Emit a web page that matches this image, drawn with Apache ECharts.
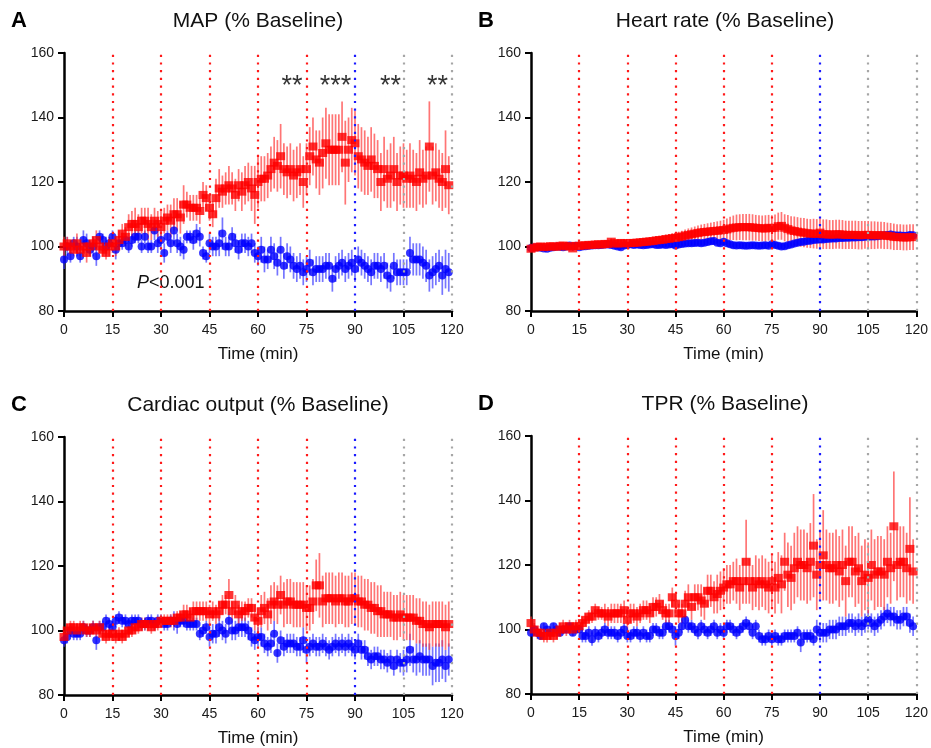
<!DOCTYPE html>
<html>
<head>
<meta charset="utf-8">
<script src="https://cdn.jsdelivr.net/npm/echarts@6/dist/echarts.min.js"></script>
<style>
  html, body { margin: 0; padding: 0; background: #fff; }
  #chart-panel { width: 931px; height: 748px; }
</style>
</head>
<body>
<div id="chart-panel"></div>
<script>
/* x ticks and y ticks */
const xTicks = [0, 15, 30, 45, 60, 75, 90, 105, 120]
const yTicks = [80, 100, 120, 140, 160]

/* vertical dotted markers: minute and colour group */
const markMinutes = [15, 30, 45, 60, 75, 90, 105, 120]
const markKinds = ['red', 'red', 'red', 'red', 'red', 'blue', 'gray', 'gray']

/* significance stars, panel A */
const starX = [70.5, 84, 101, 115.5]
const starY = [149.5, 149.5, 149.5, 149.5]
const starText = ['**', '***', '**', '**']

/* A: MAP */
const mapTrt = [
  100,101,100,99,101,99,100,98,100,101,
  102,100,99,98,100,101,100,102,104,103,
  106,107,107,106,108,108,107,106,108,107,
  106,108,109,108,110,110,109,113,113,112,
  112,112,111,116,115,112,110,115,118,117,
  118,119,118,116,119,117,119,120,118,116,
  120,121,121,122,124,126,125,128,124,123,
  124,122,123,124,120,124,128,131,127,126,
  129,132,130,130,130,130,134,126,130,133,
  132,128,127,126,125,127,125,124,120,124,
  121,122,124,120,122,122,121,122,121,120,
  123,121,122,131,122,123,121,120,124,119]
const mapTrtErr = [
  3,2,2,2,3,2,2,3,2,2,
  3,2,2,2,3,3,3,3,3,3,
  4,4,5,4,4,4,5,4,4,4,
  5,4,4,5,5,5,5,6,4,4,
  4,4,4,4,4,4,4,6,6,5,
  5,6,5,5,5,6,6,6,7,9,
  8,7,7,7,7,8,8,10,8,8,
  8,8,8,8,8,8,9,9,9,10,
  11,11,11,11,11,11,11,13,10,10,
  10,10,10,10,9,10,10,9,9,10,
  9,10,10,9,9,10,9,10,9,9,
  10,9,9,14,9,9,9,9,12,9]
const mapCtl = [
  96,100,97,101,100,97,102,101,99,100,
  97,103,102,100,101,103,99,101,101,102,
  100,102,103,103,100,103,100,100,105,101,
  102,98,103,101,105,101,100,99,103,103,
  102,104,103,98,97,101,100,100,101,104,
  100,100,103,101,99,101,101,100,101,98,
  97,99,96,96,99,97,95,99,94,97,
  96,94,93,94,92,93,95,92,93,93,
  93,94,94,90,93,94,95,93,94,95,
  93,96,95,94,93,92,94,94,93,94,
  91,90,94,92,92,92,92,98,96,96,
  96,95,94,91,92,93,94,91,93,92]
const mapCtlErr = [
  3,3,2,2,3,2,3,3,2,3,
  3,2,2,3,2,2,3,2,2,2,
  2,2,2,2,2,2,2,2,3,3,
  3,3,2,3,4,3,3,3,2,2,
  3,3,3,2,2,3,3,3,4,5,
  3,3,3,3,3,3,3,3,3,3,
  3,4,4,3,4,4,4,4,4,4,
  4,4,4,4,4,4,4,4,4,4,
  4,4,4,4,4,4,4,4,4,4,
  4,4,4,4,4,4,4,4,4,4,
  4,4,4,4,4,4,4,5,5,5,
  5,5,5,5,5,5,5,6,6,6]

/* B: heart rate */
const hrTrt = [
  99.3,99.6,99.9,100.0,99.8,99.9,100.1,100.0,99.9,100.2,
  100.3,100.0,100.1,99.4,100.2,100.2,100.4,100.3,100.5,100.5,
  100.6,100.7,100.6,100.8,100.8,101.5,101.0,100.9,101.1,101.0,
  101.0,101.1,101.1,101.2,101.3,101.4,101.5,101.6,101.7,101.9,
  102.0,102.1,102.3,102.4,102.6,102.7,102.9,103.1,103.4,103.6,
  103.8,104.0,104.2,104.4,104.5,104.6,104.7,104.8,104.9,105.0,
  105.1,105.3,105.6,105.8,105.9,106.0,106.0,106.0,106.0,105.9,
  105.8,105.7,105.6,105.6,105.8,105.7,105.8,106.3,106.4,105.8,
  105.4,105.0,104.8,104.6,104.4,104.3,104.1,104.0,104.0,103.9,
  104.3,103.8,103.8,103.7,103.7,103.8,103.8,103.7,103.6,103.6,
  103.6,103.6,103.5,103.5,103.6,103.6,103.5,103.5,103.5,103.5,
  103.4,103.3,103.2,103.0,102.9,102.9,102.8,102.8,102.9,102.9]
const hrTrtErr = [
  0.5,0.5,0.6,0.5,0.6,0.6,0.6,0.6,0.7,0.6,
  0.7,0.7,0.7,0.8,0.7,0.7,0.7,0.7,0.8,0.8,
  0.8,0.8,0.8,0.8,0.9,1.0,0.9,0.9,0.9,0.9,
  1.0,1.0,1.0,1.0,1.1,1.1,1.1,1.2,1.2,1.3,
  1.3,1.4,1.4,1.5,1.5,1.6,1.7,1.8,1.9,2.0,
  2.1,2.2,2.3,2.4,2.5,2.6,2.7,2.8,2.9,3.0,
  3.2,3.4,3.6,3.8,4.0,4.0,4.1,4.1,4.1,4.1,
  4.0,4.0,4.0,4.1,4.0,4.0,4.1,4.2,4.3,4.2,
  4.4,4.4,4.5,4.5,4.5,4.5,4.5,4.5,4.6,4.6,
  4.6,4.6,4.6,4.5,4.5,4.5,4.5,4.5,4.4,4.4,
  4.4,4.4,4.4,4.4,4.3,4.3,4.3,4.3,4.2,4.2,
  4.2,4.1,4.1,4.1,4.0,4.0,4.0,4.0,4.0,4.0]
const hrCtl = [
  99.5,99.7,99.8,99.6,99.4,99.3,99.6,99.8,100.0,99.9,
  99.8,100.0,100.3,100.0,100.2,99.8,100.0,100.1,100.2,100.3,
  100.4,100.4,100.5,100.6,100.6,100.5,100.2,100.0,99.8,100.3,
  100.5,100.7,100.5,100.6,100.5,100.4,100.5,100.6,100.7,100.5,
  100.5,100.6,100.5,100.6,100.7,100.3,100.6,100.8,100.9,101.0,
  101.0,101.1,101.2,101.0,101.2,101.4,101.6,101.7,101.2,101.0,
  101.5,101.0,100.7,100.4,100.3,100.4,100.3,100.2,100.3,100.4,
  100.3,100.2,100.3,100.4,100.2,100.7,100.5,100.2,100.0,100.1,
  100.4,100.6,100.9,101.2,101.4,101.5,101.7,101.8,102.0,102.1,
  102.2,102.2,102.3,102.4,102.5,102.5,102.6,102.6,102.7,102.7,
  102.8,102.8,102.9,102.9,103.0,103.0,103.1,103.1,103.2,103.4,
  103.5,103.6,103.7,103.5,103.4,103.4,103.3,103.3,103.6,103.5]
const hrCtlErr = [
  0.6,0.6,0.6,0.7,0.7,0.7,0.6,0.6,0.7,0.7,
  0.7,0.7,0.7,0.7,0.7,0.8,0.7,0.7,0.7,0.7,
  0.7,0.7,0.8,0.8,0.8,0.8,0.8,0.8,0.9,0.8,
  0.8,0.8,0.8,0.8,0.8,0.8,0.8,0.9,0.9,0.9,
  0.9,0.9,0.9,0.9,0.9,0.9,0.9,0.9,0.9,0.9,
  1.0,1.0,1.0,1.0,1.0,1.0,1.1,1.1,1.0,1.0,
  1.1,1.0,1.0,1.0,1.0,1.0,1.0,1.0,1.0,1.0,
  1.0,1.0,1.0,1.0,1.0,1.1,1.0,1.0,1.0,1.0,
  1.0,1.0,1.1,1.1,1.1,1.1,1.1,1.1,1.1,1.1,
  1.1,1.1,1.1,1.1,1.1,1.1,1.1,1.1,1.1,1.1,
  1.1,1.1,1.1,1.1,1.1,1.1,1.1,1.1,1.1,1.2,
  1.2,1.2,1.2,1.2,1.2,1.2,1.2,1.2,1.2,1.2]

/* C: cardiac output */
const coTrt = [
  98,100,101,101,100,101,101,100,100,101,
  100,101,99,98,99,99,98,99,98,99,
  100,100,101,101,102,102,102,101,102,102,
  103,103,103,103,103,104,104,105,105,104,
  106,106,106,106,106,105,106,105,106,108,
  108,111,106,108,105,106,106,107,107,104,
  103,106,107,105,108,109,108,111,108,109,
  109,108,108,108,108,107,107,109,114,114,
  109,110,110,110,109,110,110,109,109,110,
  110,109,109,108,108,107,107,106,106,105,
  105,105,104,104,105,104,104,104,104,103,
  103,102,102,101,102,102,102,102,101,102]
const coTrtErr = [
  2,2,2,2,2,2,2,2,2,2,
  2,2,2,2,2,2,2,2,2,2,
  2,2,2,2,2,2,2,2,2,2,
  2,2,2,2,2,2,2,3,3,3,
  3,3,3,3,3,3,3,3,3,3,
  3,5,3,3,3,3,3,3,3,4,
  4,5,5,5,6,6,6,6,7,7,
  7,7,7,7,7,7,7,7,8,10,
  8,8,8,8,8,8,8,8,8,8,
  8,8,8,8,8,8,8,8,8,7,
  7,7,7,7,7,7,7,7,7,7,
  7,7,7,7,7,7,7,7,7,7]
const coCtl = [
  97,98,100,99,99,99,101,100,100,101,
  97,101,101,103,102,101,103,104,103,103,
  102,103,103,103,102,102,103,103,102,103,
  103,102,102,103,103,102,103,103,102,102,
  102,102,99,100,101,98,99,99,101,100,
  99,103,100,100,101,101,101,100,98,97,
  98,98,96,95,96,99,93,97,95,96,
  96,96,95,95,97,94,95,96,95,95,
  96,95,94,95,96,95,96,95,96,95,
  94,96,94,94,92,91,92,92,91,91,
  90,91,89,91,90,90,91,94,91,91,
  92,91,91,91,89,90,90,91,89,91]
const coCtlErr = [
  2,2,2,2,2,2,2,2,2,2,
  3,2,2,2,2,2,2,2,2,2,
  2,2,2,2,2,2,2,2,2,2,
  2,2,2,2,3,3,2,2,2,2,
  2,2,2,2,2,3,3,3,3,3,
  3,3,3,3,3,3,3,3,3,3,
  3,3,3,3,3,4,3,3,3,3,
  3,3,3,3,4,4,3,3,3,3,
  3,3,3,3,3,3,3,3,3,3,
  3,3,3,3,3,3,3,3,3,3,
  3,3,3,3,3,4,4,5,4,5,
  5,5,5,5,6,6,6,6,5,5]

/* D: TPR */
const tprTrt = [
  102,100,99,99,98,98,99,98,99,100,
  101,100,101,100,101,101,102,103,104,104,
  106,105,105,105,104,105,105,105,105,106,
  103,105,105,104,105,106,106,105,107,107,
  108,106,105,105,110,108,105,105,108,110,
  107,110,110,109,108,112,112,110,111,112,
  113,114,114,115,115,113,115,121,115,113,
  115,114,115,114,113,115,113,116,114,121,
  117,116,119,121,120,120,119,121,126,117,
  120,123,120,119,119,120,118,120,115,121,
  121,118,119,115,117,116,120,117,118,118,
  117,121,119,132,120,121,121,119,125,118]
const tprTrtErr = [
  2,2,2,2,2,2,2,2,2,2,
  2,2,2,2,2,2,2,2,2,2,
  2,2,2,3,3,3,3,3,3,3,
  3,3,3,3,3,3,3,3,3,3,
  3,3,3,3,3,3,3,3,4,4,
  4,4,4,5,5,5,5,5,6,6,
  6,6,6,6,7,7,7,13,7,7,
  8,8,8,8,8,8,8,8,9,9,
  10,10,11,11,11,11,11,12,16,11,
  11,14,11,11,11,11,11,11,11,11,
  11,11,11,11,11,11,11,11,11,11,
  11,11,11,17,11,11,11,11,16,10]
const tprCtl = [
  99,100,99,98,101,100,99,101,100,99,
  100,100,101,99,100,100,98,98,99,97,
  99,98,99,100,99,99,99,98,99,100,
  98,98,99,99,98,99,98,98,100,100,
  99,99,101,101,100,98,99,101,103,101,
  101,100,99,101,100,99,100,101,99,100,
  99,101,101,100,99,100,101,102,101,99,
  101,98,97,97,98,97,98,97,97,98,
  98,98,98,99,96,98,98,98,97,100,
  99,99,99,100,100,100,101,101,101,102,
  102,101,102,101,102,103,102,101,102,103,
  104,105,104,104,103,103,104,104,102,101]
const tprCtlErr = [
  1,1,1,1,1,1,1,1,1,1,
  1,1,1,1,1,1,2,2,2,2,
  2,2,2,2,2,2,2,2,2,2,
  2,2,2,2,2,2,2,2,2,2,
  2,2,2,2,2,3,2,2,2,2,
  2,2,2,2,2,2,2,2,2,2,
  2,2,2,2,2,2,2,2,2,2,
  2,2,2,2,2,2,2,2,2,2,
  2,2,2,2,3,2,2,2,2,3,
  3,3,3,3,3,3,3,3,3,3,
  3,3,3,3,3,3,3,3,3,3,
  3,3,3,3,3,3,3,3,3,3]

const FONT = '"Liberation Sans", Arial, sans-serif'
const RED = '#ff0000', BLUE = '#0000ff'
const markColor = { red: '#ff1a1a', blue: '#1a1aff', gray: '#a6a6a6' }

const panels = [
  { letter: 'A', title: 'MAP (% Baseline)', left: 64, top: 53, trt: mapTrt, trtErr: mapTrtErr, ctl: mapCtl, ctlErr: mapCtlErr },
  { letter: 'B', title: 'Heart rate (% Baseline)', left: 531, top: 53, trt: hrTrt, trtErr: hrTrtErr, ctl: hrCtl, ctlErr: hrCtlErr },
  { letter: 'C', title: 'Cardiac output (% Baseline)', left: 64, top: 437, trt: coTrt, trtErr: coTrtErr, ctl: coCtl, ctlErr: coCtlErr },
  { letter: 'D', title: 'TPR (% Baseline)', left: 531, top: 436, trt: tprTrt, trtErr: tprTrtErr, ctl: tprCtl, ctlErr: tprCtlErr }
]
const W = 388, H = 258

/* 均值点 */
function points(vals) {
  return vals.map((v, i) => [i, v])
}
/* 误差棒数据 */
function errPoints(vals, errs) {
  return vals.map((v, i) => [i, v, errs[i]])
}

function errSeries(idx, vals, errs, color, withMarks) {
  let s = {
    type: 'custom',
    xAxisIndex: idx, yAxisIndex: idx,
    silent: true,
    clip: false,
    data: errPoints(vals, errs),
    renderItem: function (params, api) {
      let x = api.value(0), y = api.value(1), e = api.value(2)
      let a = api.coord([x, y + e]), b = api.coord([x, y - e])
      return {
        type: 'line',
        shape: { x1: a[0], y1: a[1], x2: b[0], y2: b[1] },
        style: { stroke: color, lineWidth: 1.7, opacity: 0.7 }
      }
    }
  }
  if (withMarks) {
    s.markLine = {
      silent: true,
      symbol: 'none',
      label: { show: false },
      animation: false,
      data: markMinutes.map((m, i) => ({
        xAxis: m,
        lineStyle: { color: markColor[markKinds[i]], type: [2.2, 5.5], width: 2.2, cap: 'butt' }
      }))
    }
  }
  return s
}

let grids = [], xAxes = [], yAxes = [], series = [], graphics = []

panels.forEach((p, idx) => {
  grids.push({ left: p.left, top: p.top, width: W, height: H })
  xAxes.push({
    type: 'value', gridIndex: idx, min: 0, max: 120, interval: 15,
    name: 'Time (min)', nameLocation: 'middle', nameGap: 35,
    nameTextStyle: { fontFamily: FONT, fontSize: 17, color: '#111' },
    axisLine: { onZero: false, lineStyle: { color: '#000', width: 2.5 } },
    axisTick: { length: 6, lineStyle: { color: '#000', width: 2 } },
    axisLabel: { margin: 12, fontFamily: FONT, fontSize: 14, color: '#1a1a1a' },
    splitLine: { show: false }
  })
  yAxes.push({
    type: 'value', gridIndex: idx, min: 80, max: 160, interval: 20,
    axisLine: { show: true, lineStyle: { color: '#000', width: 2.5 } },
    axisTick: { show: true, length: 6, lineStyle: { color: '#000', width: 2 } },
    axisLabel: { margin: 10, fontFamily: FONT, fontSize: 14, color: '#1a1a1a' },
    splitLine: { show: false }
  })
  series.push(errSeries(idx, p.ctl, p.ctlErr, '#3a3aff', false))
  series.push(errSeries(idx, p.trt, p.trtErr, '#ff3a3a', true))
  series.push({
    type: 'scatter', xAxisIndex: idx, yAxisIndex: idx, silent: true,
    symbol: 'circle', symbolSize: 8,
    itemStyle: { color: BLUE },
    data: points(p.ctl)
  })
  series.push({
    type: 'scatter', xAxisIndex: idx, yAxisIndex: idx, silent: true,
    symbol: 'rect', symbolSize: [9, 8],
    itemStyle: { color: RED },
    data: points(p.trt)
  })

  graphics.push({
    type: 'text', x: p.left + W / 2, y: p.top - 32,
    style: { text: p.title, fontFamily: FONT, fontSize: 21, fill: '#111', align: 'center', verticalAlign: 'middle' }
  })
  graphics.push({
    type: 'text', x: p.left - 53, y: p.top - 32,
    style: { text: p.letter, fontFamily: FONT, fontSize: 22, fontWeight: 'bold', fill: '#000', align: 'left', verticalAlign: 'middle' }
  })
})

/* 星号 */
series.push({
  type: 'scatter', xAxisIndex: 0, yAxisIndex: 0, silent: true,
  symbolSize: 0,
  data: starX.map((x, i) => [x, starY[i]]),
  label: {
    show: true, position: 'inside',
    formatter: (p) => starText[p.dataIndex],
    fontFamily: FONT, fontSize: 27, color: '#000'
  }
})

graphics.push({
  type: 'text', x: 137, y: 283,
  style: {
    text: '{i|P}<0.001',
    rich: { i: { fontStyle: 'italic', fontFamily: FONT, fontSize: 18, fill: '#111' } },
    fontFamily: FONT, fontSize: 18, fill: '#111', verticalAlign: 'middle'
  }
})

let myChart = echarts.init(document.getElementById('chart-panel'), null, { renderer: 'canvas' })
myChart.setOption({
  animation: false,
  backgroundColor: '#fff',
  grid: grids,
  xAxis: xAxes,
  yAxis: yAxes,
  series: series,
  graphic: graphics
})
</script>
</body>
</html>
